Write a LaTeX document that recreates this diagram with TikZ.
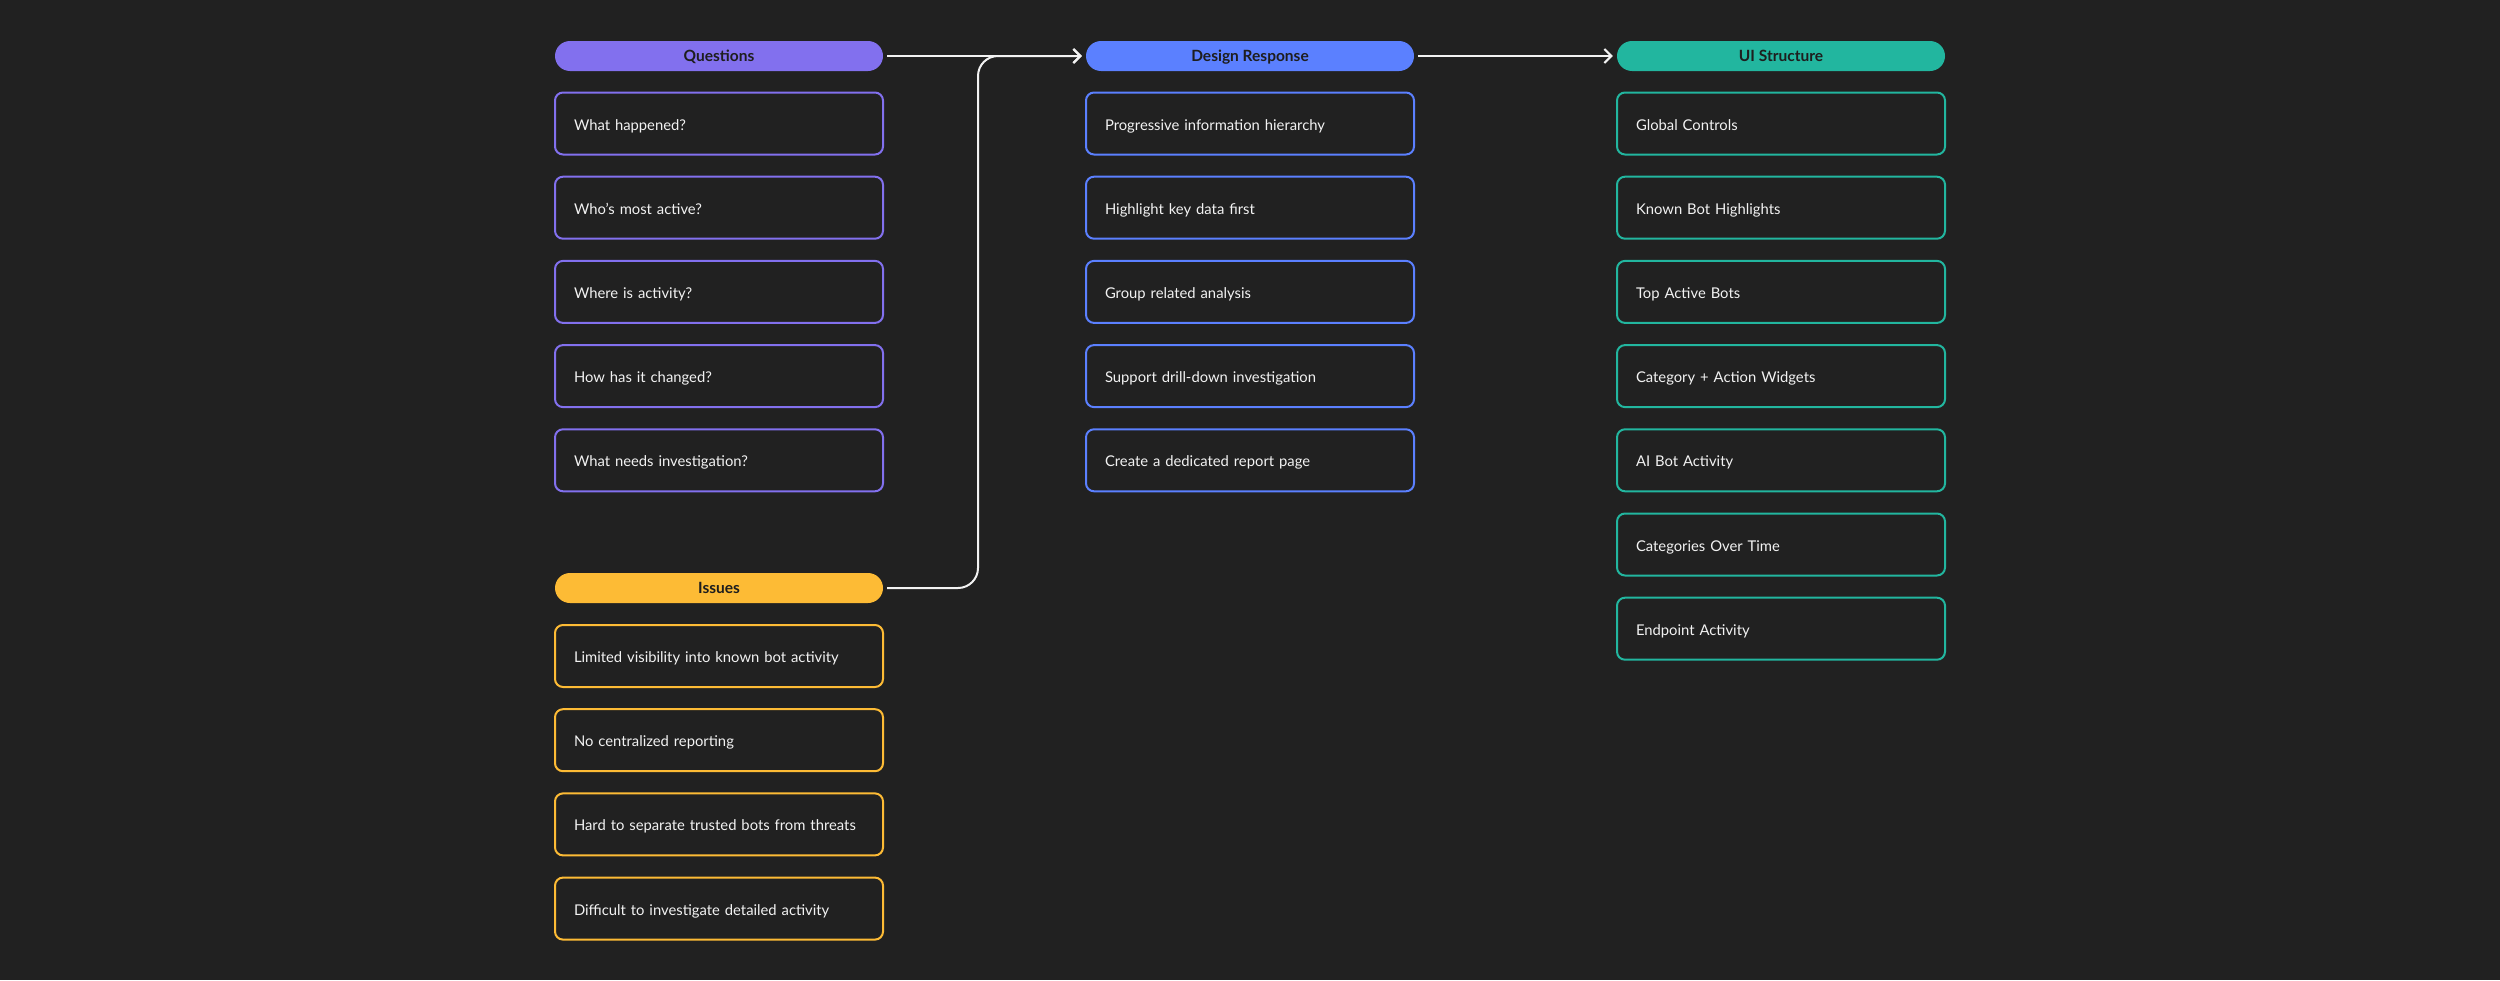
\documentclass[tikz,border=0pt]{standalone}
\usepackage{fontspec}
\setmainfont{Lato}
\usetikzlibrary{arrows.meta}
\definecolor{bg}{HTML}{212121}
\definecolor{cq}{HTML}{8270EE}
\definecolor{cd}{HTML}{5B80FF}
\definecolor{cu}{HTML}{22B69F}
\definecolor{ci}{HTML}{FDBB35}
\definecolor{txt}{HTML}{F2F2F2}
\definecolor{htxt}{HTML}{1E1E1E}
\definecolor{wire}{HTML}{F2F2F2}
\tikzset{
  hdr/.style={rectangle, rounded corners=15pt, fill=#1, draw=none,
    minimum width=328pt, minimum height=30pt, inner sep=0pt,
    text height=11pt, text depth=0pt,
    text=htxt, font=\fontsize{15.5}{17}\selectfont\bfseries},
  item/.style={rectangle, rounded corners=8pt, draw=#1, line width=2pt, fill=bg,
    minimum height=62pt, text width=290pt, inner xsep=19pt, inner ysep=0pt, align=left,
    text height=13pt, text depth=0pt,
    text=txt, font=\fontsize{14.8}{18}\selectfont},
  conn/.style={draw=wire, line width=2pt, -{Straight Barb[length=7pt,width=14pt,line width=2pt]}}
}
\begin{document}
\begin{tikzpicture}[x=1pt,y=-1pt]
\fill[bg] (0,0) rectangle (2500,980);
\useasboundingbox (0,0) rectangle (2500,980);
% Column 1: Questions
\node[hdr=cq] (q) at (719,56) {Questions};
\node[item=cq] (q1) at (719,123.5) {What happened?};
\node[item=cq] (q2) at (719,207.7) {Who’s most active?};
\node[item=cq] (q3) at (719,291.9) {Where is activity?};
\node[item=cq] (q4) at (719,376.1) {How has it changed?};
\node[item=cq] (q5) at (719,460.3) {What needs investigation?};
% Issues
\node[hdr=ci] (i) at (719,588) {Issues};
\node[item=ci] (i1) at (719,656) {Limited visibility into known bot activity};
\node[item=ci] (i2) at (719,740.2) {No centralized reporting};
\node[item=ci] (i3) at (719,824.4) {Hard to separate trusted bots from threats};
\node[item=ci] (i4) at (719,908.6) {Difficult to investigate detailed activity};
% Column 2: Design Response
\node[hdr=cd] (d) at (1250,56) {Design Response};
\node[item=cd] (d1) at (1250,123.5) {Progressive information hierarchy};
\node[item=cd] (d2) at (1250,207.7) {Highlight key data first};
\node[item=cd] (d3) at (1250,291.9) {Group related analysis};
\node[item=cd] (d4) at (1250,376.1) {Support drill-down investigation};
\node[item=cd] (d5) at (1250,460.3) {Create a dedicated report page};
% Column 3: UI Structure
\node[hdr=cu] (u) at (1781,56) {UI Structure};
\node[item=cu] (u1) at (1781,123.5) {Global Controls};
\node[item=cu] (u2) at (1781,207.7) {Known Bot Highlights};
\node[item=cu] (u3) at (1781,291.9) {Top Active Bots};
\node[item=cu] (u4) at (1781,376.1) {Category + Action Widgets};
\node[item=cu] (u5) at (1781,460.3) {AI Bot Activity};
\node[item=cu] (u6) at (1781,544.5) {Categories Over Time};
\node[item=cu] (u7) at (1781,628.7) {Endpoint Activity};
% Connectors
\coordinate (jx) at (978,300);
\draw[conn, shorten <=4pt, shorten >=4pt] (q.east) -- (d.west);
\draw[conn, shorten >=4pt, rounded corners=20pt] ([xshift=4pt]i.east) -| (jx) |- (d.west);
\draw[conn, shorten <=4pt, shorten >=4pt] (d.east) -- (u.west);
\end{tikzpicture}
\end{document}
